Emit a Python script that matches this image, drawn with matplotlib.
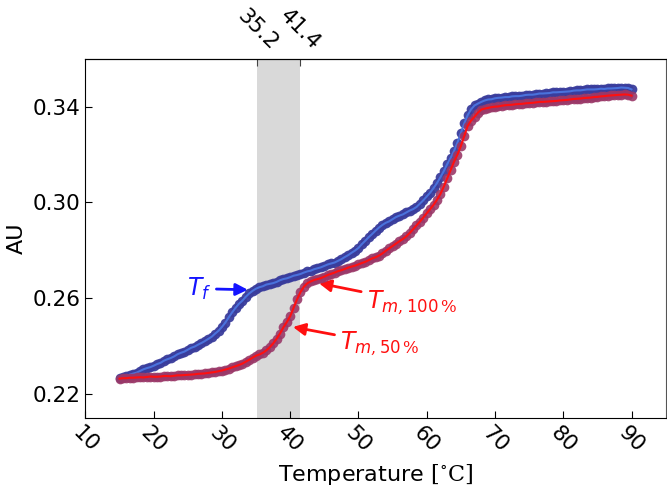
import matplotlib
matplotlib.use("Agg")
import matplotlib.pyplot as plt


plt.rcParams["font.family"] = ["DejaVu Sans"]
plt.rcParams["mathtext.fontset"] = "custom"
plt.rcParams["mathtext.rm"] = "DejaVu Serif"
plt.rcParams["mathtext.it"] = "DejaVu Sans:italic"
plt.rcParams["mathtext.sf"] = "DejaVu Sans"


# temperature grid of the melt / cool scans [deg C]
temperature = [
    15.0, 15.5, 16.0, 16.5, 17.0, 17.5, 18.0, 18.5, 19.0, 19.5,
    20.0, 20.5, 21.0, 21.5, 22.0, 22.5, 23.0, 23.5, 24.0, 24.5,
    25.0, 25.5, 26.0, 26.5, 27.0, 27.5, 28.0, 28.5, 29.0, 29.5,
    30.0, 30.5, 31.0, 31.5, 32.0, 32.5, 33.0, 33.5, 34.0, 34.5,
    35.0, 35.5, 36.0, 36.5, 37.0, 37.5, 38.0, 38.5, 39.0, 39.5,
    40.0, 40.5, 41.0, 41.5, 42.0, 42.5, 43.0, 43.5, 44.0, 44.5,
    45.0, 45.5, 46.0, 46.5, 47.0, 47.5, 48.0, 48.5, 49.0, 49.5,
    50.0, 50.5, 51.0, 51.5, 52.0, 52.5, 53.0, 53.5, 54.0, 54.5,
    55.0, 55.5, 56.0, 56.5, 57.0, 57.5, 58.0, 58.5, 59.0, 59.5,
    60.0, 60.5, 61.0, 61.5, 62.0, 62.5, 63.0, 63.5, 64.0, 64.5,
    65.0, 65.5, 66.0, 66.5, 67.0, 67.5, 68.0, 68.5, 69.0, 69.5,
    70.0, 70.5, 71.0, 71.5, 72.0, 72.5, 73.0, 73.5, 74.0, 74.5,
    75.0, 75.5, 76.0, 76.5, 77.0, 77.5, 78.0, 78.5, 79.0, 79.5,
    80.0, 80.5, 81.0, 81.5, 82.0, 82.5, 83.0, 83.5, 84.0, 84.5,
    85.0, 85.5, 86.0, 86.5, 87.0, 87.5, 88.0, 88.5, 89.0, 89.5,
    90.0,
]

# cooling scan (T_f)
cooling_au = [
    0.2268, 0.2272, 0.2275, 0.2281, 0.2285, 0.2289, 0.2296, 0.2303, 0.2308, 0.2312,
    0.2318, 0.2325, 0.2330, 0.2339, 0.2345, 0.2350, 0.2357, 0.2366, 0.2372, 0.2377,
    0.2385, 0.2393, 0.2398, 0.2406, 0.2413, 0.2421, 0.2430, 0.2439, 0.2452, 0.2464,
    0.2480, 0.2498, 0.2520, 0.2541, 0.2560, 0.2577, 0.2590, 0.2606, 0.2620, 0.2631,
    0.2640, 0.2646, 0.2650, 0.2657, 0.2660, 0.2663, 0.2668, 0.2675, 0.2680, 0.2683,
    0.2688, 0.2694, 0.2697, 0.2701, 0.2707, 0.2712, 0.2715, 0.2721, 0.2725, 0.2729,
    0.2735, 0.2741, 0.2745, 0.2749, 0.2756, 0.2763, 0.2772, 0.2780, 0.2790, 0.2799,
    0.2810, 0.2826, 0.2840, 0.2855, 0.2868, 0.2882, 0.2895, 0.2906, 0.2915, 0.2921,
    0.2930, 0.2939, 0.2945, 0.2950, 0.2958, 0.2966, 0.2972, 0.2981, 0.2995, 0.3009,
    0.3025, 0.3041, 0.3060, 0.3081, 0.3105, 0.3131, 0.3160, 0.3186, 0.3215, 0.3250,
    0.3290, 0.3330, 0.3365, 0.3389, 0.3405, 0.3413, 0.3420, 0.3426, 0.3430, 0.3431,
    0.3435, 0.3437, 0.3438, 0.3440, 0.3440, 0.3443, 0.3444, 0.3444, 0.3446, 0.3449,
    0.3450, 0.3450, 0.3452, 0.3455, 0.3455, 0.3456, 0.3457, 0.3460, 0.3460, 0.3461,
    0.3462, 0.3463, 0.3464, 0.3467, 0.3468, 0.3468, 0.3470, 0.3472, 0.3472, 0.3472,
    0.3473, 0.3475, 0.3474, 0.3476, 0.3476, 0.3477, 0.3478, 0.3480, 0.3479, 0.3478,
    0.3472,
]

# heating scan (T_m)
heating_au = [
    0.2264, 0.2266, 0.2266, 0.2268, 0.2268, 0.2269, 0.2270, 0.2269, 0.2271, 0.2273,
    0.2272, 0.2272, 0.2273, 0.2275, 0.2275, 0.2274, 0.2276, 0.2278, 0.2278, 0.2279,
    0.2280, 0.2281, 0.2282, 0.2284, 0.2285, 0.2286, 0.2288, 0.2290, 0.2292, 0.2295,
    0.2298, 0.2302, 0.2306, 0.2311, 0.2316, 0.2321, 0.2327, 0.2335, 0.2343, 0.2352,
    0.2360, 0.2365, 0.2372, 0.2382, 0.2395, 0.2411, 0.2430, 0.2452, 0.2478, 0.2500,
    0.2525, 0.2560, 0.2595, 0.2625, 0.2648, 0.2662, 0.2670, 0.2676, 0.2680, 0.2684,
    0.2690, 0.2697, 0.2702, 0.2707, 0.2713, 0.2717, 0.2722, 0.2728, 0.2732, 0.2736,
    0.2741, 0.2747, 0.2752, 0.2759, 0.2766, 0.2771, 0.2778, 0.2787, 0.2798, 0.2808,
    0.2818, 0.2828, 0.2838, 0.2847, 0.2858, 0.2872, 0.2888, 0.2904, 0.2920, 0.2937,
    0.2955, 0.2972, 0.2990, 0.3011, 0.3035, 0.3066, 0.3100, 0.3135, 0.3170, 0.3200,
    0.3235, 0.3278, 0.3320, 0.3342, 0.3358, 0.3375, 0.3388, 0.3392, 0.3395, 0.3398,
    0.3400, 0.3401, 0.3404, 0.3406, 0.3407, 0.3408, 0.3410, 0.3411, 0.3412, 0.3414,
    0.3415, 0.3416, 0.3418, 0.3420, 0.3420, 0.3421, 0.3422, 0.3423, 0.3424, 0.3426,
    0.3427, 0.3428, 0.3430, 0.3432, 0.3433, 0.3434, 0.3436, 0.3437, 0.3438, 0.3440,
    0.3441, 0.3443, 0.3444, 0.3446, 0.3447, 0.3448, 0.3449, 0.3450, 0.3451, 0.3450,
    0.3446,
]

window = [35.2, 41.4]
window_labels = ["35.2", "41.4"]
x_ticks = [10, 20, 30, 40, 50, 60, 70, 80, 90]
y_ticks = [0.22, 0.26, 0.30, 0.34]


fig = plt.figure(figsize=(6.67, 4.94), dpi=100)
ax = fig.add_axes([0.128, 0.154, 0.870, 0.727])

ax.axvspan(window[0], window[1], color="#d9d9d9", lw=0, zorder=0)

ax.plot(temperature, cooling_au, "o", color="#3a3d9c", ms=7, mew=0, alpha=0.95, zorder=2)
ax.plot(temperature, cooling_au, "-", color="#4a72dc", lw=1.5, zorder=3)
ax.plot(temperature, heating_au, "o", color="#9a3868", ms=7, mew=0, alpha=0.9, zorder=4)
ax.plot(temperature, heating_au, "-", color="#ff1010", lw=1.5, zorder=5)

ax.annotate(r"$T_f$", xy=(34.2, 0.2635), xytext=(26.6, 0.2640),
            color="#1414ff", fontsize=17, ha="center", va="center",
            arrowprops=dict(arrowstyle="-|>", color="#1414ff", lw=2, mutation_scale=18))
ax.annotate(r"$T_{m,\mathsf{100}\,\%}$", xy=(43.8, 0.2665), xytext=(51.2, 0.2585),
            color="#ff1010", fontsize=17, ha="left", va="center",
            arrowprops=dict(arrowstyle="-|>", color="#ff1010", lw=2, mutation_scale=18))
ax.annotate(r"$T_{m,\mathsf{50}\,\%}$", xy=(40.0, 0.2482), xytext=(47.3, 0.2412),
            color="#ff1010", fontsize=17, ha="left", va="center",
            arrowprops=dict(arrowstyle="-|>", color="#ff1010", lw=2, mutation_scale=18))

ax.set_xlim(10, 95)
ax.set_ylim(0.21, 0.36)
ax.set_xticks(x_ticks)
ax.set_yticks(y_ticks)
ax.set_xticklabels([str(t) for t in x_ticks], rotation=-45)
ax.tick_params(direction="in", labelsize=15.5, length=5)
ax.tick_params(top=False, right=False)

ax.spines["right"].set_color("#555555")

secax = ax.secondary_xaxis("top")
secax.set_xticks(window)
secax.set_xticklabels(window_labels, rotation=-45)
secax.tick_params(direction="in", labelsize=15.5, length=5, color="#444444")

ax.set_xlabel(r"Temperature $[^{\circ}\mathrm{C}]$", fontsize=16)
ax.set_ylabel("AU", fontsize=16)

fig.savefig("out.png", dpi=100)
